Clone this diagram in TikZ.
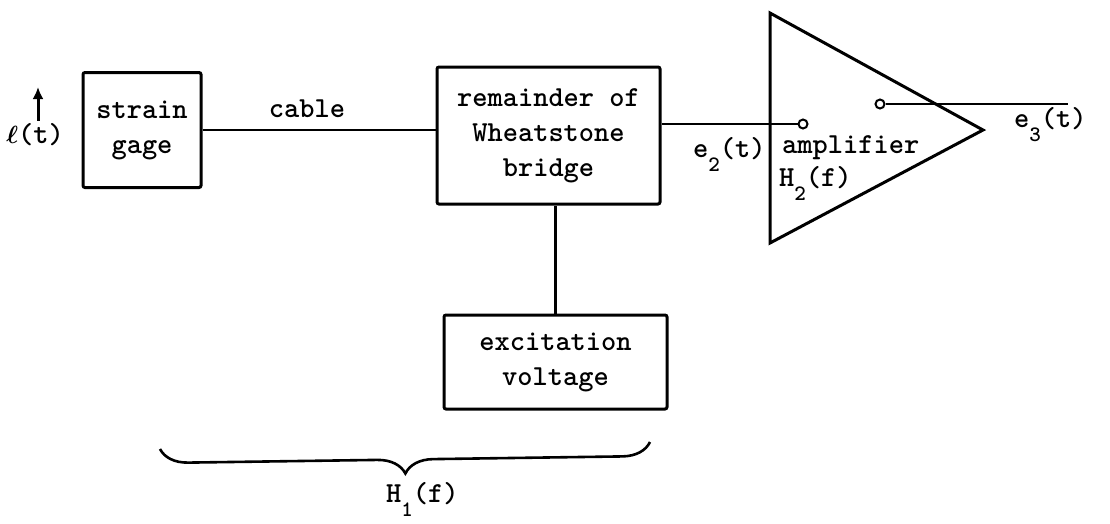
\documentclass[tikz,border=0pt]{standalone}
\usepackage{bm}
\usetikzlibrary{decorations.pathreplacing,arrows.meta}
\begin{document}
\begin{tikzpicture}[x=1pt,y=-1pt,
  txt/.style={font=\fontsize{29}{35}\selectfont\ttfamily\bfseries, inner sep=0pt},
  blk/.style={draw, line width=3pt, rounded corners=2pt, align=center, txt},
  wire/.style={line width=2.6pt},
  term/.style={draw, circle, line width=2pt, minimum size=9pt, inner sep=0pt}]
\newcommand{\sbx}[1]{\raisebox{-14pt}{\fontsize{22}{22}\selectfont #1}}
\useasboundingbox (0,0) rectangle (1110,523);
% blocks
\node[blk, minimum width=118pt, minimum height=115pt] (sg) at (142,130) {strain\\gage};
\node[blk, minimum width=223pt, minimum height=137pt] (wb) at (548.5,135.5) {remainder of\\Wheatstone\\bridge};
\node[blk, minimum width=223pt, minimum height=94pt] (ex) at (555.5,362) {excitation\\voltage};
% amplifier triangle
\coordinate (t1) at (770,13);
\coordinate (t2) at (770,243);
\coordinate (t3) at (983,130);
\draw[line width=3pt, line join=miter] (t1) -- (t3) -- (t2) -- cycle;
\node[term] (in) at (803,124) {};
\node[term] (out) at (880,104) {};
\coordinate (end3) at (1068,104);
% connectors
\draw[wire] (sg.east) -- (sg.east -| wb.west);
\draw[wire] (wb.east |- in) -- (in.west);
\draw[wire] (out.east) -- (end3);
\draw[wire] (ex.north) -- (ex.north |- wb.south);
% labels
\node[txt, anchor=base] (cab) at (307,117) {cable};
\node[txt, anchor=base west] (e2) at (693,157) {e\sbx{2}(t)};
\node[txt, anchor=base west] (amp) at (782,153) {amplifier};
\node[txt, anchor=base west] (h2) at (779,186) {H\sbx{2}(f)};
\node[txt, anchor=base west] (e3) at (1014,127) {e\sbx{3}(t)};
\node[txt, anchor=base west] (h1) at (386,502) {H\sbx{1}(f)};
\node[txt, anchor=base] (ell) at (35,143) {$\bm{\ell}$(t)};
\coordinate (ella) at (38,87);
\draw[line width=3pt, -{Latex[length=12pt,width=11pt]}] (ell.north -| ella) ++(0,-2) -- (ella);
% brace
\draw[line width=2.6pt, decorate, decoration={brace, mirror, amplitude=28pt, aspect=0.5}] (160,449) -- (650,442);
\end{tikzpicture}
\end{document}
